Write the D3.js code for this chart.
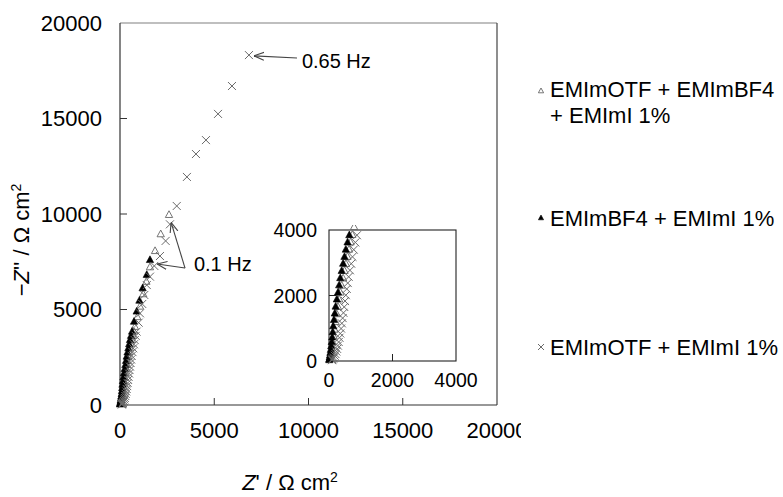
<!DOCTYPE html>
<html><head><meta charset="utf-8">
<script src="https://cdn.jsdelivr.net/npm/d3@7"></script>
<style>body{margin:0;background:#fff;} svg{display:block;font-family:"Liberation Sans",Arial,sans-serif;}</style>
</head><body><svg id="c" width="783" height="497"></svg>
<script>
// ---- data ----
const seriesNames = ["EMImOTF + EMImBF4 + EMImI 1%", "EMImBF4 + EMImI 1%", "EMImOTF + EMImI 1%"];
const openTriX = [2600,2160,1860,1590,1400,1230,1060,920,790,735,680,630,580,535,490,445,400,360,320,282,245,210,175,145,115,88,60,40,20];
const openTriY = [9950,8940,8060,7210,6450,5800,5150,4600,4090,3850,3620,3400,3180,2960,2750,2520,2300,2090,1880,1650,1430,1190,960,760,560,400,250,150,60];
const fillTriX = [1590,1420,1200,1030,885,745,640,585,530,488,445,400,355,320,285,248,210,183,155,133,118,103,88,72,58,46,35,25,16,8];
const fillTriY = [7590,6810,6110,5460,4890,4360,3840,3620,3400,3180,2970,2750,2530,2310,2090,1880,1660,1450,1250,1060,880,720,580,450,340,250,175,110,60,25];
const crossX = [6840,5940,5200,4560,4030,3550,3010,2650,2420,2120,1820,1590,1420,1290,1180,1060,990,880,830,780,740,700,660,620,590,560,530,505,480,455,430,405,380,355,330,305,280,255,230,205,180,155,130,110,95];
const crossY = [18320,16700,15240,13870,13140,11940,10420,9460,8590,7800,7280,6720,6280,5760,5290,4800,4310,3840,3620,3400,3180,2970,2770,2570,2380,2200,2010,1830,1650,1470,1310,1150,990,840,710,580,470,370,290,210,160,105,75,50,25];
const mainTicks = [0,5000,10000,15000,20000];
const insetTicks = [0,2000,4000];
const annoText = ["0.65 Hz","0.1 Hz"];

const svg = d3.select("#c");
const x = d3.scaleLinear([0,20000],[120,497]);
const y = d3.scaleLinear([0,20000],[405,23]);
const xi = d3.scaleLinear([0,4000],[329,456]);
const yi = d3.scaleLinear([0,4000],[361,230]);

const zip = (a,b)=>a.map((v,i)=>[v,b[i]]);
const openTri = zip(openTriX,openTriY), fillTri = zip(fillTriX,fillTriY), cross = zip(crossX,crossY);

function triPath(cx,cy,s){return `M${cx},${cy-s}L${cx+s*0.87},${cy+s*0.6}L${cx-s*0.87},${cy+s*0.6}Z`;}
function crossPath(cx,cy,s){return `M${cx-s},${cy-s}L${cx+s},${cy+s}M${cx-s},${cy+s}L${cx+s},${cy-s}`;}

const defs = svg.append("defs");
defs.append("clipPath").attr("id","mainclip").append("rect").attr("x",112).attr("y",15).attr("width",395).attr("height",400);
defs.append("clipPath").attr("id","insetclip").append("rect").attr("x",322).attr("y",225).attr("width",140).attr("height",142);
defs.append("clipPath").attr("id","lblclip").append("rect").attr("x",0).attr("y",0).attr("width",521).attr("height",497);
defs.append("marker").attr("id","arr").attr("viewBox","0 0 10 10").attr("refX",10).attr("refY",5)
  .attr("markerWidth",10).attr("markerHeight",10).attr("markerUnits","userSpaceOnUse").attr("orient","auto")
  .append("path").attr("d","M0,1L10,5L0,9").attr("fill","none").attr("stroke","#444").attr("stroke-width",1.1);

function drawSeries(g,xs,ys,ts,cs){
  g.selectAll(".ot").data(openTri).join("path").attr("d",d=>triPath(xs(d[0]),ys(d[1]),ts))
    .attr("fill","none").attr("stroke","#666").attr("stroke-width",0.9);
  g.selectAll(".ft").data(fillTri).join("path").attr("d",d=>triPath(xs(d[0]),ys(d[1]),ts))
    .attr("fill","#000").attr("stroke","#000").attr("stroke-width",0.6);
  g.selectAll(".cx").data(cross).join("path").attr("d",d=>crossPath(xs(d[0]),ys(d[1]),cs))
    .attr("fill","none").attr("stroke","#6a6a6a").attr("stroke-width",1);
}

// main frame
const fr = svg.append("g");
fr.append("line").attr("x1",x(0)).attr("x2",x(20000)).attr("y1",y(20000)).attr("y2",y(20000)).attr("stroke","#808080").attr("stroke-width",1.2);
fr.append("line").attr("x1",x(20000)).attr("x2",x(20000)).attr("y1",y(20000)).attr("y2",y(0)).attr("stroke","#444").attr("stroke-width",1.2);
fr.append("line").attr("x1",x(0)).attr("x2",x(0)).attr("y1",y(20000)).attr("y2",y(0)).attr("stroke","#333").attr("stroke-width",1.2);
fr.append("line").attr("x1",x(0)).attr("x2",x(20000)).attr("y1",y(0)).attr("y2",y(0)).attr("stroke","#333").attr("stroke-width",1.2);
mainTicks.slice(1,4).forEach(t=>{
  fr.append("line").attr("x1",x(t)).attr("x2",x(t)).attr("y1",y(0)).attr("y2",y(0)-7).attr("stroke","#333");
  fr.append("line").attr("x1",x(0)).attr("x2",x(0)+7).attr("y1",y(t)).attr("y2",y(t)).attr("stroke","#333");
});
svg.append("g").attr("clip-path","url(#lblclip)").selectAll("text").data(mainTicks).join("text")
  .attr("x",d=>x(d)).attr("y",438).attr("text-anchor","middle").attr("font-size",22).attr("fill","#000").text(d=>d);
svg.append("g").selectAll("text").data(mainTicks).join("text")
  .attr("x",102).attr("y",d=>y(d)+7.5).attr("text-anchor","end").attr("font-size",22).attr("fill","#000").text(d=>d);

// data main
drawSeries(svg.append("g").attr("clip-path","url(#mainclip)"),x,y,4.2,4);

// inset
const ig = svg.append("g");
ig.append("rect").attr("x",xi(0)).attr("y",yi(4000)).attr("width",xi(4000)-xi(0)).attr("height",yi(0)-yi(4000))
  .attr("fill","#fff").attr("stroke","#222").attr("stroke-width",1.1);
ig.append("line").attr("x1",xi(2000)).attr("x2",xi(2000)).attr("y1",yi(0)).attr("y2",yi(0)-7).attr("stroke","#222");
ig.append("line").attr("x1",xi(0)).attr("x2",xi(0)+7).attr("y1",yi(2000)).attr("y2",yi(2000)).attr("stroke","#222");
ig.selectAll(".xl").data(insetTicks).join("text").attr("x",d=>xi(d)).attr("y",387).attr("text-anchor","middle")
  .attr("font-size",19.5).attr("fill","#000").text(d=>d);
ig.selectAll(".yl").data(insetTicks).join("text").attr("x",317).attr("y",d=>yi(d)+7).attr("text-anchor","end")
  .attr("font-size",19.5).attr("fill","#000").text(d=>d);
drawSeries(svg.append("g").attr("clip-path","url(#insetclip)"),xi,yi,4.2,4);

// annotations
const an = svg.append("g").attr("stroke","#444").attr("stroke-width",1.1).attr("fill","none");
an.append("line").attr("x1",x(9390)).attr("y1",y(18170)).attr("x2",x(7110)).attr("y2",y(18280)).attr("marker-end","url(#arr)");
an.append("line").attr("x1",x(3450)).attr("y1",y(7170)).attr("x2",x(2710)).attr("y2",y(9560)).attr("marker-end","url(#arr)");
an.append("line").attr("x1",x(3450)).attr("y1",y(7170)).attr("x2",x(1970)).attr("y2",y(7380)).attr("marker-end","url(#arr)");
svg.append("text").attr("x",x(9650)).attr("y",y(18000)+7).attr("font-size",20).attr("fill","#000").text(annoText[0]);
svg.append("text").attr("x",x(3920)).attr("y",y(7380)+7).attr("font-size",20).attr("fill","#000").text(annoText[1]);

// axis titles
const xt = svg.append("text").attr("x",290).attr("y",490).attr("text-anchor","middle").attr("font-size",22).attr("fill","#000");
xt.append("tspan").attr("font-style","italic").text("Z");
xt.append("tspan").text("' / Ω cm");
xt.append("tspan").attr("font-size",14).attr("dy",-8).text("2");
const yt = svg.append("text").attr("transform","translate(29,240) rotate(-90)").attr("text-anchor","middle").attr("font-size",22).attr("fill","#000");
yt.append("tspan").text("−");
yt.append("tspan").attr("font-style","italic").text("Z");
yt.append("tspan").text("'' / Ω cm");
yt.append("tspan").attr("font-size",14).attr("dy",-8).text("2");

// legend
const lg = svg.append("g");
lg.append("path").attr("d",triPath(541,91,3)).attr("fill","none").attr("stroke","#666").attr("stroke-width",0.9);
lg.append("path").attr("d",triPath(541,218,3)).attr("fill","#000").attr("stroke","#000").attr("stroke-width",0.6);
lg.append("path").attr("d",crossPath(541,347,3)).attr("fill","none").attr("stroke","#6a6a6a").attr("stroke-width",1);
const l1 = lg.append("text").attr("x",550).attr("font-size",22).attr("fill","#000");
l1.append("tspan").attr("x",550).attr("y",97).text("EMImOTF + EMImBF4");
l1.append("tspan").attr("x",550).attr("y",123).text("+ EMImI 1%");
lg.append("text").attr("x",550).attr("y",226).attr("font-size",22).attr("fill","#000").text(seriesNames[1]);
lg.append("text").attr("x",550).attr("y",355).attr("font-size",22).attr("fill","#000").text(seriesNames[2]);
</script></body></html>
